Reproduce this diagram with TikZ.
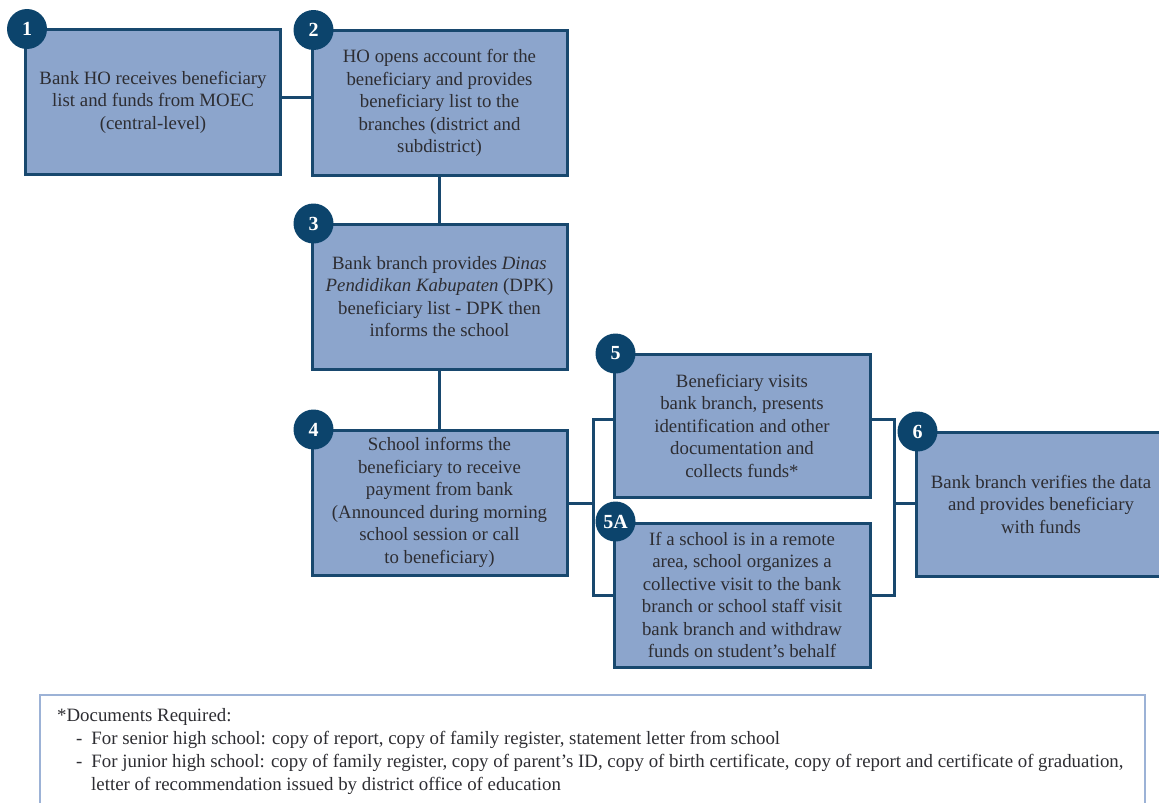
\documentclass[tikz,border=0pt]{standalone}
\usepackage{fontspec}
\setmainfont{Liberation Serif}
\definecolor{boxfill}{RGB}{140,165,204}
\definecolor{boxline}{RGB}{24,72,110}
\definecolor{badgefill}{RGB}{12,68,108}
\definecolor{notebd}{RGB}{156,178,214}
\definecolor{txt}{RGB}{45,45,50}
\begin{document}
\begin{tikzpicture}[x=1pt,y=-1pt,
  stepbox/.style={draw=boxline, line width=3pt, fill=boxfill, minimum width=255pt,
    minimum height=145pt, align=center, font=\fontsize{18.8}{22.5}\selectfont,
    text=txt, inner sep=0pt},
  badge/.style={circle, fill=badgefill, text=white,
    font=\fontsize{20}{20}\selectfont\bfseries, minimum size=40pt, inner sep=0pt},
  link/.style={draw=boxline, line width=3pt},
  notetext/.style={align=left, font=\fontsize{18.85}{23}\selectfont, text=txt, inner sep=0pt}]
\useasboundingbox (0,0) rectangle (1159,803);

% boxes
\node[stepbox] (b1) at (153,102) {Bank HO receives beneficiary\\list and funds from MOEC\\(central-level)};
\node[stepbox] (b2) at (439.5,103) {HO opens account for the\\beneficiary and provides\\beneficiary list to the\\branches (district and\\subdistrict)};
\node[stepbox] (b3) at (439.5,296.5) {Bank branch provides \textit{Dinas}\\\textit{Pendidikan Kabupaten} (DPK)\\beneficiary list - DPK then\\informs the school};
\node[stepbox] (b4) at (439.5,502.5) {School informs the\\beneficiary to receive\\payment from bank\\(Announced during morning\\school session or call\\to beneficiary)};
\node[stepbox, minimum width=256pt, minimum height=143pt] (b5) at (742,425.5) {Beneficiary visits\\bank branch, presents\\identification and other\\documentation and\\collects funds*};
\node[stepbox, minimum width=256pt, minimum height=144pt] (b5a) at (742,595) {If a school is in a remote\\area, school organizes a\\collective visit to the bank\\branch or school staff visit\\bank branch and withdraw\\funds on student’s behalf};
\node[stepbox, minimum width=250pt, minimum height=144pt] (b6) at (1041,504) {Bank branch verifies the data\\and provides beneficiary\\with funds};

% connectors
\coordinate (j12) at (296,97);
\draw[link] (b1.east |- j12) -- (b2.west |- j12);
\draw[link] (b2.south) -- (b3.north);
\draw[link] (b3.south) -- (b4.north);
\coordinate (jlt) at (593,419);
\coordinate (jlm) at (593,503);
\coordinate (jlb) at (593,595);
\draw[link] (b4.east |- jlm) -- (jlm);
\draw[link] (b5.west |- jlt) -- (jlt) -- (jlb) -- (b5a.west |- jlb);
\coordinate (jrt) at (894,419);
\coordinate (jrm) at (894,503);
\coordinate (jrb) at (894,595);
\draw[link] (b5.east |- jrt) -- (jrt) -- (jrb) -- (b5a.east |- jrb);
\draw[link] (jrm) -- (b6.west |- jrm);

% badges
\node[badge] (c1) at ([xshift=3pt,yshift=-1pt]b1.north west) {1};
\node[badge] (c2) at ([xshift=3pt,yshift=-1pt]b2.north west) {2};
\node[badge] (c3) at ([xshift=3pt,yshift=-1pt]b3.north west) {3};
\node[badge] (c4) at ([xshift=3pt,yshift=-1pt]b4.north west) {4};
\node[badge] (c5) at ([xshift=3pt,yshift=-1pt]b5.north west) {5};
\node[badge] (c5a) at ([xshift=3pt,yshift=0pt]b5a.north west) {5A};
\node[badge] (c6) at ([xshift=3pt,yshift=-1pt]b6.north west) {6};

% note
\draw[draw=notebd, line width=2pt] (40,695) rectangle (1145,830);
\node[notetext, anchor=north west] (nt) at (57,708) {*Documents Required:\\
\hspace*{19pt}-\hspace*{9pt}For senior high school: copy of report, copy of family register, statement letter from school\\
\hspace*{19pt}-\hspace*{9pt}For junior high school: copy of family register, copy of parent’s ID, copy of birth certificate, copy of report and certificate of graduation,\\
\hspace*{34pt}letter of recommendation issued by district office of education};
\end{tikzpicture}
\end{document}
